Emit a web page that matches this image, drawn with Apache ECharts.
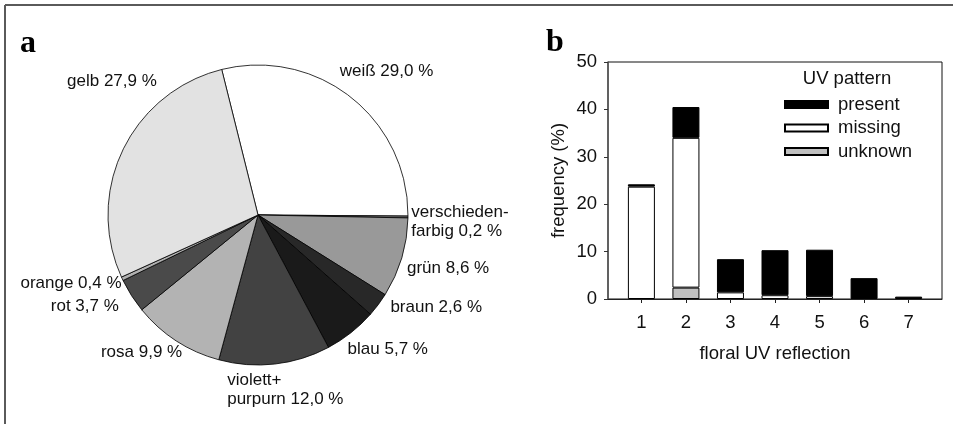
<!DOCTYPE html>
<html>
<head>
<meta charset="utf-8">
<script src="https://cdn.jsdelivr.net/npm/echarts@6/dist/echarts.min.js"></script>
<style>
  html, body { margin: 0; padding: 0; background: #fff; }
  #chart { width: 953px; height: 424px; }
</style>
</head>
<body>
<div id="chart"></div>
<script>
// ---- Panel a: flower colours (pie) ----
const pieNames = ['weiß', 'verschieden-\nfarbig', 'grün', 'braun', 'blau', 'violett+\npurpurn', 'rosa', 'rot', 'orange', 'gelb'];
const pieValues = [29.0, 0.2, 8.6, 2.6, 5.7, 12.0, 9.9, 3.7, 0.4, 27.9];
const pieColors = ['#ffffff', '#7a7a7a', '#999999', '#282828', '#1a1a1a', '#424242', '#b3b3b3', '#4a4a4a', '#b0b0b0', '#e2e2e2'];

// ---- Panel b: floral UV reflection (stacked bars) ----
const uvCategories = [1, 2, 3, 4, 5, 6, 7];
const presentValues = [0.5, 6.5, 7.0, 9.5, 9.8, 4.4, 0.5];
const missingValues = [23.7, 31.6, 1.4, 0.8, 0.6, 0, 0];
const unknownValues = [0, 2.4, 0, 0, 0, 0, 0];
const yTickLabels = [0, 10, 20, 30, 40, 50];

// label placement tweaks (pixels) relative to a radial anchor
const labelNudge = [[11, 6], [12, 4], [8, -1], [26, -21], [12, -15], [6, -14], [-13, -22], [-13, -11], [-15, -12], [25, -51]];

const PIE_CX = 258, PIE_CY = 215, PIE_R = 150, START = 104, LABEL_D = 190;
const total = pieValues.reduce((a, b) => a + b, 0);
const midAngles = [];
let cum = 0;
pieValues.forEach(v => { midAngles.push(START - 360 * (cum + v / 2) / total); cum += v; });

const fmt = v => v.toFixed(1).replace('.', ',');
const pieData = pieNames.map((n, i) => ({ name: n, value: pieValues[i], itemStyle: { color: pieColors[i] } }));
// value first, category position second (so the value dimension is the stacked one)
const toPairs = arr => arr.map((v, i) => [v === 0 ? '-' : v, uvCategories[i]]);

const chart = echarts.init(document.getElementById('chart'), null, { renderer: 'canvas' });
const barFont = 'Liberation Sans, Arial, sans-serif';

chart.setOption({
  animation: false,
  backgroundColor: '#ffffff',
  graphic: [
    { type: 'line', shape: { x1: 5, y1: 5, x2: 953, y2: 5 }, style: { stroke: '#5a5a5a', lineWidth: 2 } },
    { type: 'line', shape: { x1: 5, y1: 5, x2: 5, y2: 424 }, style: { stroke: '#5a5a5a', lineWidth: 2 } },
    { type: 'text', x: 20, y: 44, style: { text: 'a', font: 'bold 32px "Liberation Serif", "Times New Roman", serif', fill: '#000', textAlign: 'left', textVerticalAlign: 'middle' } },
    { type: 'text', x: 546, y: 43, style: { text: 'b', font: 'bold 32px "Liberation Serif", "Times New Roman", serif', fill: '#000', textAlign: 'left', textVerticalAlign: 'middle' } },
    { type: 'text', x: 847, y: 79, style: { text: 'UV pattern', font: '18.5px "Liberation Sans", Arial, sans-serif', fill: '#111', textAlign: 'center', textVerticalAlign: 'middle' } }
  ],
  grid: { left: 608, top: 62, width: 334, height: 237, show: true, borderColor: '#111', borderWidth: 1, backgroundColor: 'transparent' },
  xAxis: {
    type: 'value', min: 0.25, max: 7.75,
    name: 'floral UV reflection', nameLocation: 'middle', nameGap: 45,
    nameTextStyle: { fontSize: 18.5, fontFamily: barFont, color: '#111' },
    axisLine: { show: true, lineStyle: { color: '#222', width: 1 } },
    axisTick: { show: true, customValues: uvCategories, length: 4, inside: false, lineStyle: { color: '#222' } },
    axisLabel: { customValues: uvCategories, margin: 14, fontSize: 18.5, fontFamily: barFont, color: '#111' },
    splitLine: { show: false }
  },
  yAxis: {
    type: 'value', min: 0, max: 50, interval: 10,
    name: 'frequency (%)', nameLocation: 'middle', nameGap: 40, nameRotate: 90,
    nameTextStyle: { fontSize: 18.5, fontFamily: barFont, color: '#111' },
    axisLine: { show: true, lineStyle: { color: '#555', width: 1.5 } },
    axisTick: { show: true, length: 4, inside: false, lineStyle: { color: '#333' } },
    axisLabel: { margin: 11, fontSize: 18.5, fontFamily: barFont, color: '#111',
      formatter: v => (yTickLabels.indexOf(v) >= 0 ? String(v) : '') },
    splitLine: { show: false }
  },
  legend: {
    orient: 'vertical', left: 779, top: 90,
    itemWidth: 43, itemHeight: 7, itemGap: 4.5,
    icon: 'rect',
    data: ['present', 'missing', 'unknown'],
    textStyle: { fontSize: 18.5, fontFamily: barFont, color: '#111', padding: [0, 0, 0, 5] }
  },
  series: [
    {
      type: 'pie', center: [PIE_CX, PIE_CY], radius: PIE_R, startAngle: START, clockwise: true,
      avoidLabelOverlap: false, minAngle: 0, silent: true,
      data: pieData,
      itemStyle: { borderColor: '#000', borderWidth: 0.8 },
      label: {
        show: true, position: 'outside', fontSize: 17, lineHeight: 19,
        fontFamily: 'Liberation Sans, Arial, sans-serif', color: '#111',
        formatter: p => p.name + ' ' + fmt(p.value) + ' %'
      },
      labelLine: { show: false },
      labelLayout: function (params) {
        const i = params.dataIndex;
        const a = midAngles[i] * Math.PI / 180;
        const cx = PIE_CX + LABEL_D * Math.cos(a) + labelNudge[i][0];
        const cy = PIE_CY - LABEL_D * Math.sin(a) + labelNudge[i][1];
        return { x: cx - params.labelRect.width / 2, y: cy, align: 'left', verticalAlign: 'middle' };
      }
    },
    { name: 'unknown', type: 'bar', stack: 'uv', barWidth: 27, data: toPairs(unknownValues), encode: { x: 1, y: 0 },
      itemStyle: { color: '#c0c0c0', borderColor: '#000', borderWidth: 1 } },
    { name: 'missing', type: 'bar', stack: 'uv', barWidth: 27, data: toPairs(missingValues), encode: { x: 1, y: 0 },
      itemStyle: { color: '#ffffff', borderColor: '#000', borderWidth: 1 } },
    { name: 'present', type: 'bar', stack: 'uv', barWidth: 27, data: toPairs(presentValues), encode: { x: 1, y: 0 },
      itemStyle: { color: '#000000', borderColor: '#000', borderWidth: 1 } }
  ]
});
</script>
</body>
</html>
